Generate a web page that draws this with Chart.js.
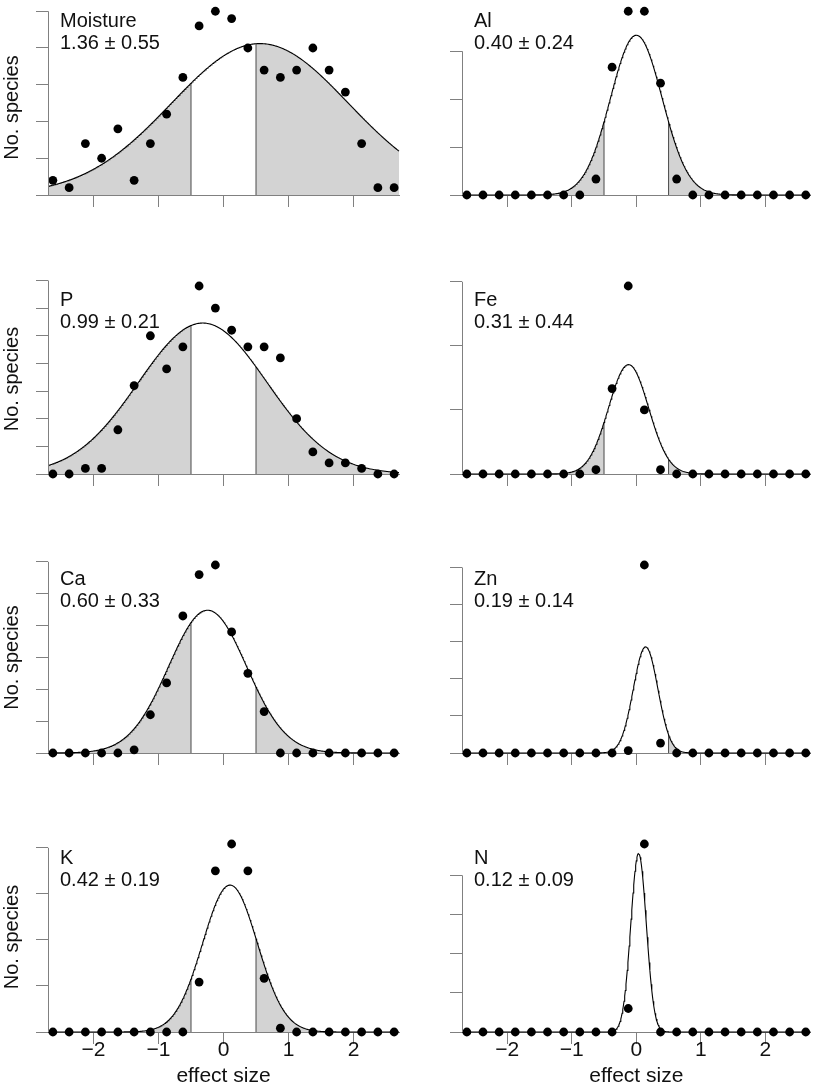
<!DOCTYPE html>
<html>
<head>
<meta charset="utf-8">
<script src="https://cdn.jsdelivr.net/npm/chart.js@4.4.1/dist/chart.umd.min.js"></script>
<style>
  html, body { margin: 0; padding: 0; background: #fff; }
  #wrap { position: relative; width: 815px; height: 1091px; overflow: hidden; }
  #wrap canvas { position: absolute; left: 0; top: 0; }
</style>
</head>
<body>
<div id="wrap"></div>
<script>
// effect-size bins (centres), same for every panel
const binCenters = [-2.625, -2.375, -2.125, -1.875, -1.625, -1.375, -1.125, -0.875, -0.625, -0.375, -0.125,
                    0.125, 0.375, 0.625, 0.875, 1.125, 1.375, 1.625, 1.875, 2.125, 2.375, 2.625];

// number of species per bin
const moisture = [2, 1, 7, 5, 9, 2, 7, 11, 16, 23, 25, 24, 20, 17, 16, 17, 20, 17, 14, 7, 1, 1];
const al       = [0, 0, 0, 0, 0, 0, 0, 0, 2, 16, 23, 23, 14, 2, 0, 0, 0, 0, 0, 0, 0, 0];
const p        = [0, 0, 1, 1, 8, 16, 25, 19, 23, 34, 30, 26, 23, 23, 21, 10, 4, 2, 2, 1, 0, 0];
const fe       = [0, 0, 0, 0, 0, 0, 0, 0, 1, 20, 44, 15, 1, 0, 0, 0, 0, 0, 0, 0, 0, 0];
const ca       = [0, 0, 0, 0, 0, 1, 12, 22, 43, 56, 59, 38, 25, 13, 0, 0, 0, 0, 0, 0, 0, 0];
const zn       = [0, 0, 0, 0, 0, 0, 0, 0, 0, 0, 1, 76, 4, 0, 0, 0, 0, 0, 0, 0, 0, 0];
const k        = [0, 0, 0, 0, 0, 0, 0, 0, 0, 13, 42, 49, 42, 14, 1, 0, 0, 0, 0, 0, 0, 0];
const n        = [0, 0, 0, 0, 0, 0, 0, 0, 0, 0, 3, 24, 0, 0, 0, 0, 0, 0, 0, 0, 0, 0];

const panelNames = ['Moisture', 'Al', 'P', 'Fe', 'Ca', 'Zn', 'K', 'N'];
const panelStats = ['1.36 \u00b1 0.55', '0.40 \u00b1 0.24', '0.99 \u00b1 0.21', '0.31 \u00b1 0.44',
                    '0.60 \u00b1 0.33', '0.19 \u00b1 0.14', '0.42 \u00b1 0.19', '0.12 \u00b1 0.09'];
const panelSeries = [moisture, al, p, fe, ca, zn, k, n];

// fitted normal curve per panel (centre, sd, height in species)
const curveMean = [0.56, 0.0, -0.32, -0.12, -0.245, 0.144, 0.10, 0.035];
const curveSd   = [1.36, 0.40, 0.99, 0.31, 0.60, 0.19, 0.42, 0.12];
const curvePeak = [20.6, 20.0, 27.3, 25.6, 44.8, 42.9, 38.3, 22.8];

// y tick spacing (no labels in the figure), x tick labels
const yTickStep = [5, 6, 5, 15, 10, 15, 12, 5];
const xTicks = [-2, -1, 0, 1, 2];
const cutoffs = [-0.5, 0.5];

const X_MIN = -2.7, X_MAX = 2.7;
const AXIS = '#808080';
const FONT = '"Liberation Sans", Arial, Helvetica, sans-serif';

// page layout
const W = 815, H = 1091;
const colLeft = [48, 462], colRight = [399, 811];
const rowBase = [195, 474, 753, 1032];
const yTitleMid = [107.5, 379, 657.5, 937];
const MAX_PX = 188, AREA_PX = 195;
const SCALE_W = 14, SCALE_H = 14;

function gauss(i, x) {
  const d = (x - curveMean[i]) / curveSd[i];
  return curvePeak[i] * Math.exp(-0.5 * d * d);
}

function curvePoints(i, a, b) {
  const pts = [];
  const steps = Math.max(2, Math.round((b - a) / 0.01));
  for (let s = 0; s <= steps; s++) {
    const x = a + (b - a) * s / steps;
    pts.push({x: x, y: gauss(i, x)});
  }
  return pts;
}

function alignPx(v) { return Math.round(v - 0.5) + 0.5; }

const panelDecor = {
  id: 'panelDecor',
  afterDraw(chart, args, opts) {
    const i = opts.index;
    const col = i % 2, row = Math.floor(i / 2);
    const {ctx, chartArea} = chart;
    const yS = chart.scales.y, xS = chart.scales.x;
    const B = rowBase[row];
    ctx.save();

    // R-style y axis line: from 0 to the last tick
    const ticks = yS.ticks.map(t => t.value);
    const top = ticks[ticks.length - 1];
    const ax = alignPx(chartArea.left);
    ctx.strokeStyle = AXIS;
    ctx.lineWidth = 1;
    ctx.beginPath();
    ctx.moveTo(ax, yS.getPixelForValue(0));
    ctx.lineTo(ax, yS.getPixelForValue(top));
    ctx.stroke();

    // panel label
    ctx.fillStyle = '#111';
    ctx.font = '20px ' + FONT;
    ctx.textAlign = 'left';
    ctx.textBaseline = 'alphabetic';
    ctx.fillText(panelNames[i], chartArea.left + 12, B - 168);
    ctx.fillText(panelStats[i], chartArea.left + 12, B - 146.5);

    if (col === 0) {
      ctx.save();
      ctx.translate(18, yTitleMid[row]);
      ctx.rotate(-Math.PI / 2);
      ctx.textAlign = 'center';
      ctx.font = '20px ' + FONT;
      ctx.fillText('No. species', 0, 0);
      ctx.restore();
    }

    if (row === 3) {
      ctx.font = '21px ' + FONT;
      ctx.textAlign = 'center';
      xTicks.forEach(v => {
        const lab = v < 0 ? '\u2212' + Math.abs(v) : String(v);
        ctx.fillText(lab, xS.getPixelForValue(v), B + 24);
      });
      ctx.fillText('effect size', (chartArea.left + chartArea.right) / 2, B + 50);
    }
    ctx.restore();
  }
};

const wrap = document.getElementById('wrap');

panelSeries.forEach((vals, i) => {
  const col = i % 2, row = Math.floor(i / 2);
  const maxVal = Math.max(...vals);
  const yMax = maxVal * AREA_PX / MAX_PX;
  const yTicks = [];
  for (let v = 0; v <= maxVal * 1.04 + 1e-9; v += yTickStep[i]) yTicks.push(v);

  const L = colLeft[col], R = colRight[col], B = rowBase[row], T = B - AREA_PX;

  const canvas = document.createElement('canvas');
  canvas.width = W;
  canvas.height = H;
  wrap.appendChild(canvas);

  const pts = binCenters.map((x, j) => ({x: x, y: vals[j]}));
  const lo = cutoffs[0], hi = cutoffs[1];

  new Chart(canvas, {
    type: 'scatter',
    data: {
      datasets: [
        { data: pts, pointRadius: 4.4, pointBackgroundColor: '#000', pointBorderWidth: 0,
          pointHoverRadius: 4.4, showLine: false, clip: false },
        { data: curvePoints(i, X_MIN, X_MAX), showLine: true, borderColor: '#000', borderWidth: 1.1,
          pointRadius: 0, fill: false, clip: false },
        { data: [{x: lo, y: 0}, {x: lo, y: gauss(i, lo)}], showLine: true, borderColor: '#4a4a4a',
          borderWidth: 1, pointRadius: 0, fill: false, clip: false },
        { data: [{x: hi, y: 0}, {x: hi, y: gauss(i, hi)}], showLine: true, borderColor: '#4a4a4a',
          borderWidth: 1, pointRadius: 0, fill: false, clip: false },
        { data: curvePoints(i, X_MIN, lo), showLine: true, borderWidth: 0, borderColor: 'rgba(0,0,0,0)',
          pointRadius: 0, fill: 'origin', backgroundColor: '#d3d3d3' },
        { data: curvePoints(i, hi, X_MAX), showLine: true, borderWidth: 0, borderColor: 'rgba(0,0,0,0)',
          pointRadius: 0, fill: 'origin', backgroundColor: '#d3d3d3' }
      ]
    },
    options: {
      responsive: false,
      maintainAspectRatio: false,
      animation: false,
      events: [],
      layout: { padding: { left: L - SCALE_W, right: W - R, top: T, bottom: H - B - SCALE_H } },
      plugins: {
        legend: { display: false },
        tooltip: { enabled: false },
        panelDecor: { index: i }
      },
      scales: {
        x: {
          type: 'linear', min: X_MIN, max: X_MAX,
          afterFit: s => { s.height = SCALE_H; },
          afterBuildTicks: s => { s.ticks = xTicks.map(v => ({value: v})); },
          grid: { display: true, drawOnChartArea: false, drawTicks: true, tickLength: 12, color: AXIS, lineWidth: 1 },
          border: { display: true, color: AXIS, width: 1 },
          ticks: { display: false }
        },
        y: {
          type: 'linear', min: 0, max: yMax,
          afterFit: s => { s.width = SCALE_W; },
          afterBuildTicks: s => { s.ticks = yTicks.map(v => ({value: v})); },
          grid: { display: true, drawOnChartArea: false, drawTicks: true, tickLength: 12, color: AXIS, lineWidth: 1 },
          border: { display: false },
          ticks: { display: false }
        }
      }
    },
    plugins: [panelDecor]
  });
});
</script>
</body>
</html>
